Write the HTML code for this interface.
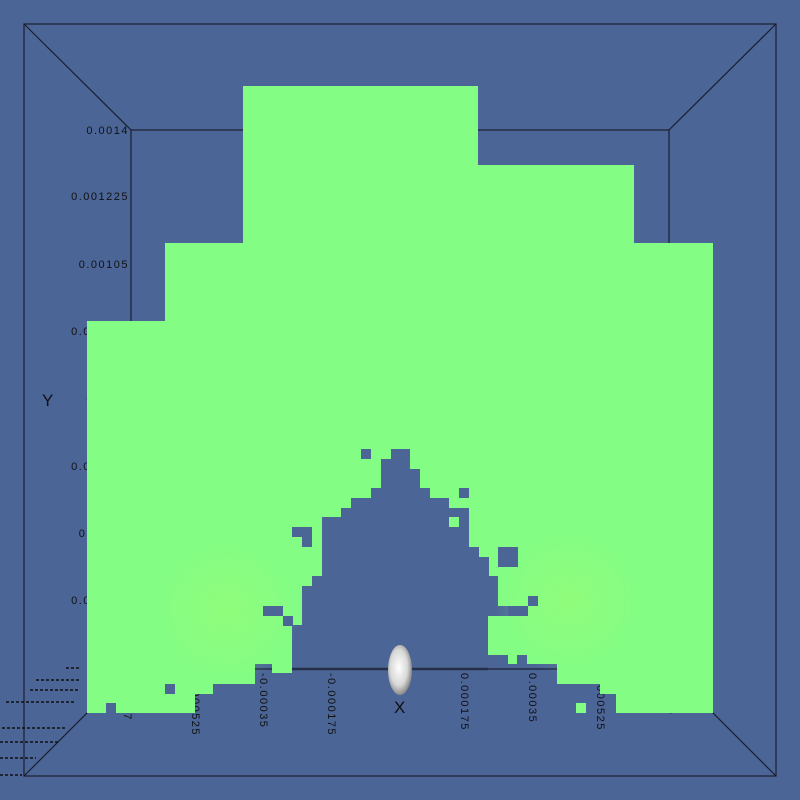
<!DOCTYPE html>
<html><head><meta charset="utf-8"><style>
html,body{margin:0;padding:0;background:#4b6597;}
svg{display:block;}
text{font-family:"Liberation Sans","DejaVu Sans",sans-serif;font-size:11px;fill:#111;letter-spacing:1.5px;}
</style></head><body>
<svg width="800" height="800" viewBox="0 0 800 800">
<defs>
<radialGradient id="glowY" cx="0.5" cy="0.5" r="0.5">
<stop offset="0" stop-color="#a0fc70" stop-opacity="0.45"/><stop offset="0.7" stop-color="#94fc78" stop-opacity="0.2"/><stop offset="1" stop-color="#84fd84" stop-opacity="0"/>
</radialGradient>
<radialGradient id="ell" cx="0.45" cy="0.45" r="0.6"><stop offset="0" stop-color="#ffffff"/><stop offset="0.6" stop-color="#d8d8d8"/><stop offset="1" stop-color="#777"/></radialGradient>
</defs>
<rect width="800" height="800" fill="#4b6597"/>
<g stroke="#1a1f2e" stroke-width="1.2" fill="none">
<rect x="24" y="24" width="752" height="752"/>
<rect x="131" y="130" width="538" height="539"/>
<line x1="24" y1="24" x2="131" y2="130"/><line x1="776" y1="24" x2="669" y2="130"/>
<line x1="24" y1="776" x2="131" y2="669"/><line x1="776" y1="776" x2="669" y2="669"/>
</g>
<g text-anchor="end">
<text x="129" y="134">0.0014</text><text x="129" y="200">0.001225</text><text x="129" y="268">0.00105</text>
<text x="129" y="335">0.000875</text><text x="129" y="403">0.0007</text><text x="129" y="470">0.000525</text>
<text x="129" y="537">0.00035</text><text x="129" y="604">0.000175</text>
</g>
<text x="42" y="406" style="font-size:17px;">Y</text>
<g>
<text transform="translate(124,673) rotate(90)">-0.0007</text>
<text transform="translate(192,673) rotate(90)">-0.000525</text>
<text transform="translate(260,673) rotate(90)">-0.00035</text>
<text transform="translate(328,673) rotate(90)">-0.000175</text>
<text transform="translate(461,673) rotate(90)">0.000175</text>
<text transform="translate(529,673) rotate(90)">0.00035</text>
<text transform="translate(597,673) rotate(90)">0.000525</text>
<text transform="translate(664,673) rotate(90)">0.0007</text>
</g>
<text x="394" y="713" style="font-size:17px;">X</text>
<g stroke="#111" stroke-width="1.5" stroke-dasharray="3 2">
<line x1="66" y1="668" x2="80" y2="668"/><line x1="36" y1="680" x2="80" y2="680"/>
<line x1="30" y1="690" x2="78" y2="690"/><line x1="6" y1="702" x2="74" y2="702"/>
<line x1="2" y1="728" x2="66" y2="728"/><line x1="0" y1="742" x2="60" y2="742"/>
<line x1="0" y1="758" x2="36" y2="758"/><line x1="0" y1="775" x2="22" y2="775"/>
</g>
<path fill="#84fd84" fill-rule="evenodd" d="
M87,321 L165,321 L165,243 L243,243 L243,86 L478,86 L478,165 L634,165 L634,243 L713,243 L713,713 L616,713 L616,694 L600,694 L600,684 L557,684 L557,664 L508,664 L508,655 L488,655 L488,616 L518,616 L518,606 L498,606 L498,576 L488,576 L488,557 L479,557 L479,547 L469,547 L469,508 L449,508 L449,498 L430,498 L430,488 L420,488 L420,469 L410,469 L410,449 L391,449 L391,459 L381,459 L381,488 L371,488 L371,498 L351,498 L351,508 L341,508 L341,517 L322,517 L322,576 L312,576 L312,586 L302,586 L302,625 L292,625 L292,673 L272,673 L272,664 L255,664 L255,684 L213,684 L213,694 L195,694 L195,713 L87,713 Z"/>
<g fill="url(#glowY)">
<circle cx="225" cy="610" r="75"/><circle cx="570" cy="600" r="75"/>
</g>
<g fill="#4b6597">
<rect x="361" y="449" width="10" height="10"/>
<rect x="292" y="527" width="20" height="10"/><rect x="302" y="537" width="10" height="10"/>
<rect x="263" y="606" width="20" height="10"/><rect x="283" y="616" width="10" height="10"/>
<rect x="498" y="547" width="20" height="20"/><rect x="528" y="596" width="10" height="10"/>
<rect x="508" y="606" width="20" height="10"/>
<rect x="459" y="488" width="10" height="10"/>
<rect x="165" y="684" width="10" height="10"/><rect x="517" y="655" width="10" height="10"/>
<rect x="106" y="703" width="10" height="10"/>
<rect x="479" y="557" width="10" height="20"/>
</g>
<g fill="#84fd84">
<rect x="449" y="517" width="10" height="10"/><rect x="576" y="703" width="10" height="10"/>
<rect x="430" y="488" width="10" height="10"/>
</g>
<line x1="292" y1="669" x2="488" y2="669" stroke="#253048" stroke-width="2.5"/>
<ellipse cx="400" cy="670" rx="12" ry="25" fill="url(#ell)"/>
</svg>
</body></html>
